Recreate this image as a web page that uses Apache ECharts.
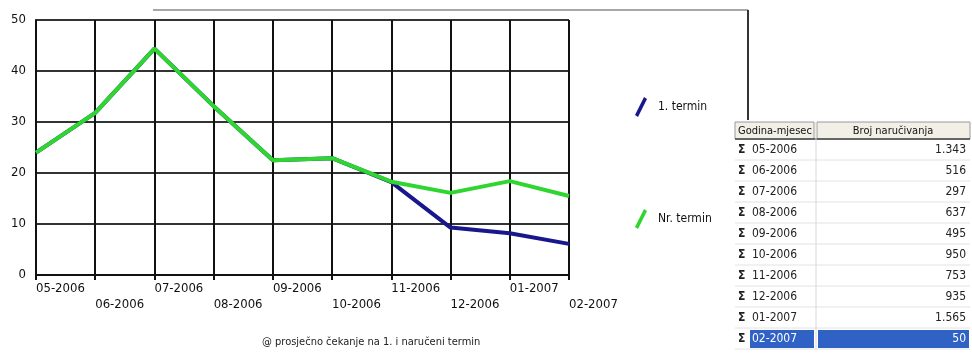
<!DOCTYPE html>
<html>
<head>
<meta charset="utf-8">
<script src="https://cdn.jsdelivr.net/npm/echarts@6/dist/echarts.min.js"></script>
<style>
  html, body { margin: 0; padding: 0; background: #fff; }
  #chart { width: 972px; height: 354px; }
</style>
</head>
<body>
<div id="chart"></div>
<script>
// Months on the x axis
const months = ['05-2006', '06-2006', '07-2006', '08-2006', '09-2006',
                '10-2006', '11-2006', '12-2006', '01-2007', '02-2007'];
// Average waiting time (days) to the first available appointment
const firstTerm = [24, 31.8, 44.4, 33.1, 22.5, 22.9, 18.2, 9.3, 8.2, 6.1];
// Average waiting time (days) to the booked appointment
const bookedTerm = [24, 31.8, 44.4, 33.1, 22.5, 22.9, 18.3, 16.1, 18.4, 15.5];
// Side table: number of bookings per month
const tableMonths = months;
const bookings = [1343, 516, 297, 637, 495, 950, 753, 935, 1565, 50];
const selectedRow = 9;

const FONT = '"Liberation Sans Narrow", "DejaVu Sans Condensed", sans-serif';

function fmtThousands(n) {
  return String(n).replace(/\B(?=(\d{3})+(?!\d))/g, '.');
}

// ---- side table built with graphic elements ----
const T = { x0: 735, xs: 816, x1: 970, top: 122, headH: 17, rowH: 21 };
const tableEls = [];
// header cells
tableEls.push({ type: 'rect', shape: { x: T.x0, y: T.top, width: T.xs - T.x0 - 2, height: T.headH },
  style: { fill: '#f1efe6', stroke: '#9a9a9a', lineWidth: 1 } });
tableEls.push({ type: 'rect', shape: { x: T.xs + 1, y: T.top, width: T.x1 - T.xs - 1, height: T.headH },
  style: { fill: '#f1efe6', stroke: '#9a9a9a', lineWidth: 1 } });
tableEls.push({ type: 'line', shape: { x1: T.x0, y1: T.top + T.headH, x2: T.x1, y2: T.top + T.headH },
  style: { stroke: '#444', lineWidth: 1.5 } });
tableEls.push({ type: 'text', x: T.x0 + 3, y: T.top + T.headH / 2 + 1,
  style: { text: 'Godina-mjesec', font: '11px ' + FONT, fill: '#111', verticalAlign: 'middle' } });
tableEls.push({ type: 'text', x: (T.xs + T.x1) / 2, y: T.top + T.headH / 2 + 1,
  style: { text: 'Broj naručivanja', font: '11px ' + FONT, fill: '#111', align: 'center', verticalAlign: 'middle' } });
// body rows
tableMonths.forEach((m, i) => {
  const y = T.top + T.headH + i * T.rowH;
  const cy = y + T.rowH / 2;
  const sel = i === selectedRow;
  if (sel) {
    tableEls.push({ type: 'rect', shape: { x: T.x0 + 15, y: y + 2, width: T.xs - T.x0 - 17, height: T.rowH - 3 },
      style: { fill: '#2f62c4' } });
    tableEls.push({ type: 'rect', shape: { x: T.xs + 2, y: y + 2, width: T.x1 - T.xs - 3, height: T.rowH - 3 },
      style: { fill: '#2f62c4' } });
  }
  tableEls.push({ type: 'line', shape: { x1: T.x0, y1: y + T.rowH, x2: T.x1, y2: y + T.rowH },
    style: { stroke: '#e2e2e2', lineWidth: 1 } });
  tableEls.push({ type: 'text', x: T.x0 + 3, y: cy,
    style: { text: 'Σ', font: 'bold 12px ' + FONT, fill: '#222', verticalAlign: 'middle' } });
  tableEls.push({ type: 'text', x: T.x0 + 17, y: cy,
    style: { text: m, font: '12px ' + FONT, fill: sel ? '#fff' : '#222', verticalAlign: 'middle' } });
  tableEls.push({ type: 'text', x: T.x1 - 4, y: cy,
    style: { text: fmtThousands(bookings[i]), font: '12px ' + FONT, fill: sel ? '#fff' : '#222',
      align: 'right', verticalAlign: 'middle' } });
});
// column divider
tableEls.push({ type: 'line', shape: { x1: T.xs, y1: T.top, x2: T.xs, y2: T.top + T.headH + 10 * T.rowH },
  style: { stroke: '#d8d8d8', lineWidth: 1 } });

// frame lines above the chart
const frameEls = [
  { type: 'line', shape: { x1: 153, y1: 10, x2: 748, y2: 10 }, style: { stroke: '#8a8a8a', lineWidth: 1.5 } },
  { type: 'line', shape: { x1: 748, y1: 10, x2: 748, y2: 120 }, style: { stroke: '#333', lineWidth: 2 } }
];

const captionEl = {
  type: 'text', x: 262, y: 342,
  style: { text: '@ prosječno čekanje na 1. i naručeni termin', font: '11px ' + FONT, fill: '#222',
    verticalAlign: 'middle' }
};

const chart = echarts.init(document.getElementById('chart'), null, { renderer: 'canvas' });
chart.setOption({
  animation: false,
  backgroundColor: '#fff',
  grid: { left: 36, right: 403, top: 20, bottom: 79, containLabel: false },
  legend: {
    orient: 'vertical',
    left: 630, top: 92,
    itemGap: 92,
    itemWidth: 12, itemHeight: 20,
    icon: 'path://M9,0 L12,2 L3,20 L0,18 Z',
    textStyle: { fontFamily: FONT, fontSize: 12, color: '#111', padding: [0, 0, 0, 6] },
    data: ['1. termin', 'Nr. termin']
  },
  xAxis: {
    type: 'category',
    data: months,
    boundaryGap: false,
    axisLine: { lineStyle: { color: '#111', width: 2 } },
    axisTick: { show: true, length: 5, lineStyle: { color: '#111', width: 2 } },
    axisLabel: {
      interval: 0, align: 'left', margin: 6,
      fontFamily: FONT, fontSize: 13, color: '#111', lineHeight: 16,
      formatter: (v, i) => (i % 2 ? '\n' + v : v)
    },
    splitLine: { show: true, lineStyle: { color: '#111', width: 2 } }
  },
  yAxis: {
    type: 'value', min: 0, max: 50, interval: 10,
    axisLine: { show: true, lineStyle: { color: '#111', width: 2 } },
    axisTick: { show: false },
    axisLabel: { fontFamily: FONT, fontSize: 13, color: '#111', margin: 10 },
    splitLine: { lineStyle: { color: '#333', width: 2 } }
  },
  series: [
    { name: '1. termin', type: 'line', data: firstTerm, showSymbol: false, symbol: 'none',
      itemStyle: { color: '#18188c' }, lineStyle: { color: '#18188c', width: 4 }, z: 3 },
    { name: 'Nr. termin', type: 'line', data: bookedTerm, showSymbol: false, symbol: 'none',
      itemStyle: { color: '#2fd62f' }, lineStyle: { color: '#2fd62f', width: 4 }, z: 4 }
  ],
  graphic: frameEls.concat(tableEls).concat([captionEl])
});
</script>
</body>
</html>
